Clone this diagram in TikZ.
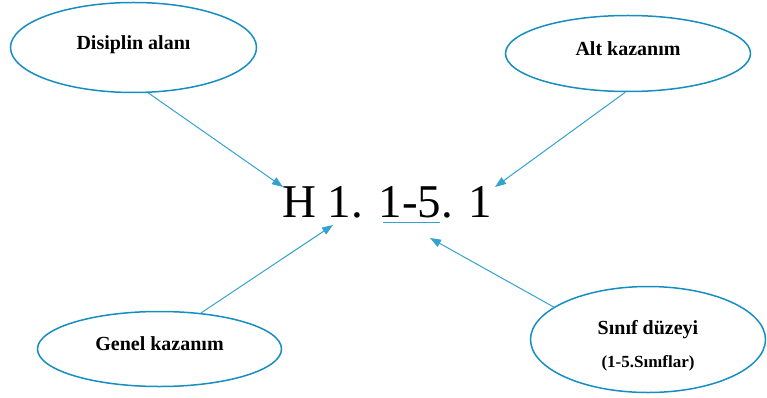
\documentclass[tikz,border=0pt]{standalone}
\usepackage{fontspec}
\setmainfont{Liberation Serif}
\usetikzlibrary{shapes.geometric,arrows.meta}

\definecolor{bubbleblue}{RGB}{22,142,192}
\definecolor{arrowblue}{RGB}{52,162,206}

\begin{document}
\begin{tikzpicture}[x=1pt, y=-1pt, >={Triangle[length=11pt,width=8pt]}]

    \tikzset{%
    every bubble/.style={
        ellipse,
        draw=bubbleblue,
        line width=1.5pt,
        inner sep=0pt,
        font=\fontsize{20}{24}\selectfont\bfseries,
        text height=14pt,
        text depth=10.8pt
        },
    bubble two lines/.style={
        align=center,
        text height=60pt,
        text depth=5pt
        },
    }

    \useasboundingbox (0,0) rectangle (767,398);

    % Bubbles round the code
    \node [every bubble/.try, minimum width=246pt, minimum height=90pt] (disiplin) at (133.5,47.5) {Disiplin alanı};
    \node [every bubble/.try, minimum width=245pt, minimum height=76pt] (alt) at (628,53.5) {Alt kazanım};
    \node [every bubble/.try, minimum width=244pt, minimum height=75pt] (genel) at (159.5,349) {Genel kazanım};
    \node [every bubble/.try, bubble two lines, minimum width=235pt, minimum height=106pt] (sinif) at (648,339.5)
        {Sınıf düzeyi\\[9pt]{\fontsize{17}{20}\selectfont (1-5.Sınıflar)}};

    % The code itself
    \node [anchor=base west, inner sep=0pt, font=\fontsize{47}{56}\selectfont] (code) at (282,217)
        {H 1. 1-5. 1};

    % Blue line under the 1-5
    \draw [arrowblue, line width=1pt] ([shift={(101,5)}]code.base west) -- ++(57,0);

    % Arrow ends at the code
    \coordinate (tip-1) at (283,187);
    \coordinate (tip-2) at (495,187);
    \coordinate (tip-3) at (333,225);
    \coordinate (tip-4) at (430,238);

    % Arrows from the bubbles
    \foreach \a/\b in {disiplin.-72/tip-1, alt.-94/tip-2, genel.41/tip-3, sinif.161/tip-4}
    \draw [arrowblue, line width=1pt, ->] (\a) -- (\b);

\end{tikzpicture}
\end{document}
